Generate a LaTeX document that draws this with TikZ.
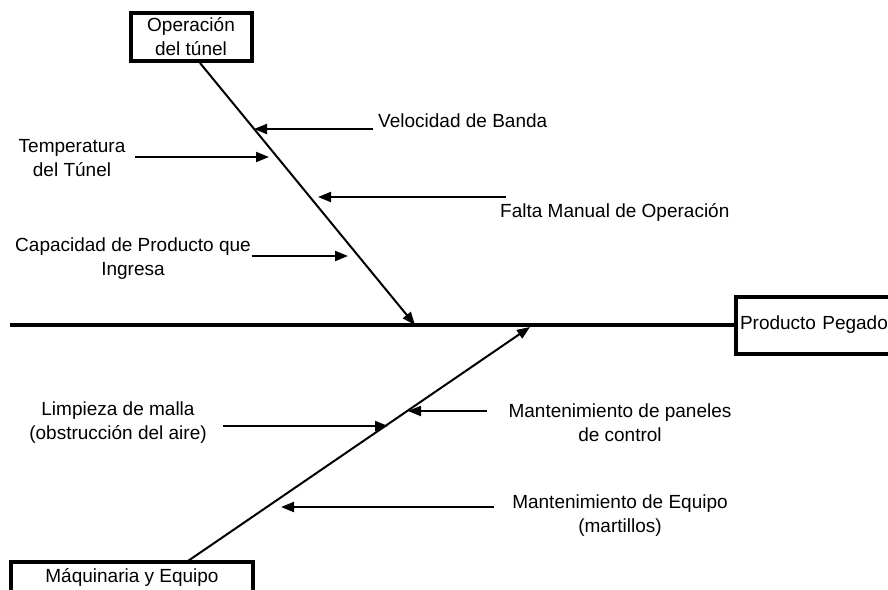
\documentclass[tikz,border=0pt]{standalone}
\usepackage{fontspec}
\setmainfont{Liberation Sans}
\usetikzlibrary{arrows.meta}

\begin{document}
\begin{tikzpicture}[x=1pt,y=-1pt,
	texto/.style={font=\fontsize{19}{24}\selectfont, inner sep=0pt, align=center},
	caja/.style={draw, line width=4pt, inner sep=0pt, font=\fontsize{19}{24}\selectfont, align=center},
	espina/.style={line width=4pt},
	hueso/.style={line width=2pt, -{Triangle[length=13pt,width=10pt]}},
	flecha/.style={line width=2pt, -{Triangle[length=13pt,width=10pt]}}]
	% 设置画布大小
	\useasboundingbox (0,0) rectangle (888,589);
	\clip (0,0) rectangle (888,589);
	
	% 绘制三个方框
	\node[caja, minimum width=121pt, minimum height=48pt] (tunel) at (191,37) {Operación\\del túnel};
	\node[caja, minimum width=242pt, minimum height=30pt] (maquinaria) at (132,577) {Máquinaria y Equipo};
	\node[caja, anchor=west, minimum height=57pt, inner xsep=4pt, text width=170pt, align=left] (efecto) at (734,325) {Producto Pegado};
	
	% 绘制主干和两根骨
	\coordinate (inicio) at (10,325);
	\coordinate (tunelpie) at (200,63);
	\coordinate (tunelpunta) at (415,325);
	\coordinate (maqpie) at (185,563);
	\coordinate (maqpunta) at (530,327);
	\draw[espina] (inicio) -- (efecto.west);
	\draw[hueso] (tunelpie) -- (tunelpunta);
	\draw[hueso] (maqpie) -- (maqpunta);
	
	% 绘制上方的原因
	\node[texto, anchor=west] (velocidad) at (378,121) {Velocidad de Banda};
	\node[texto] (temperatura) at (72,158) {Temperatura\\del Túnel};
	\node[texto, anchor=west] (manual) at (500,212) {Falta Manual de Operación};
	\node[texto] (capacidad) at (133,259) {Capacidad de Producto que\\Ingresa};
	\coordinate (velA) at (373,129); \coordinate (velB) at (254,129);
	\coordinate (temA) at (135,157); \coordinate (temB) at (269,157);
	\coordinate (manA) at (506,197); \coordinate (manB) at (318,197);
	\coordinate (capA) at (252,256); \coordinate (capB) at (348,256);
	\draw[flecha] (velA) -- (velB);
	\draw[flecha] (temA) -- (temB);
	\draw[flecha] (manA) -- (manB);
	\draw[flecha] (capA) -- (capB);
	
	% 绘制下方的原因
	\node[texto] (limpieza) at (118,423) {Limpieza de malla\\(obstrucción del aire)};
	\node[texto] (paneles) at (620,423) {Mantenimiento de paneles\\de control};
	\node[texto] (equipo) at (620,516) {Mantenimiento de Equipo\\(martillos)};
	\coordinate (limA) at (223,426); \coordinate (limB) at (388,426);
	\coordinate (panA) at (487,411); \coordinate (panB) at (408,411);
	\coordinate (equA) at (494,507); \coordinate (equB) at (281,507);
	\draw[flecha] (limA) -- (limB);
	\draw[flecha] (panA) -- (panB);
	\draw[flecha] (equA) -- (equB);
\end{tikzpicture}
\end{document}
